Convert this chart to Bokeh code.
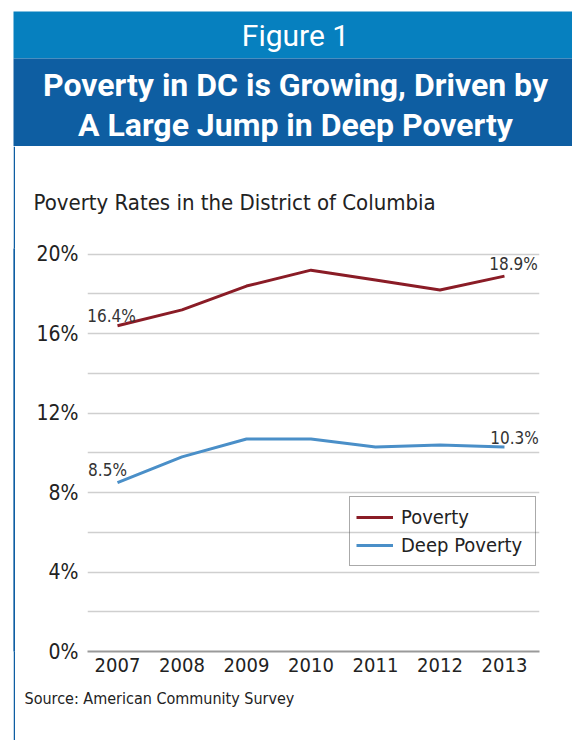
from bokeh.plotting import figure
from bokeh.layouts import column, row
from bokeh.models import (Range1d, FixedTicker, PrintfTickFormatter, Legend, LegendItem,
                          Title, Label, ColumnDataSource, Spacer)
from bokeh.core.properties import value
from bokeh.embed import file_html
from bokeh.resources import INLINE

# ---------------- data ----------------
years = [2007, 2008, 2009, 2010, 2011, 2012, 2013]
poverty = [16.4, 17.2, 18.4, 19.2, 18.7, 18.2, 18.9]
deep_poverty = [8.5, 9.8, 10.7, 10.7, 10.3, 10.4, 10.3]
y_ticks = [0, 4, 8, 12, 16, 20]
grid_ticks = [2, 4, 6, 8, 10, 12, 14, 16, 18, 20]
series_names = ["Poverty", "Deep Poverty"]
fig_label = "Figure 1"
headline = ["Poverty in DC is Growing, Driven by", "A Large Jump in Deep Poverty"]
chart_title = "Poverty Rates in the District of Columbia"
source_note = "Source: American Community Survey"

# ---------------- styles ----------------
LIGHT_BLUE = "#0680BF"
DARK_BLUE = "#0E5EA2"
RED = "#8A1C26"
BLUE = "#4A8FC8"
TXT = "#222222"
NARROW = "DejaVu Sans Condensed, Lato, sans-serif"

W = 572
HEAD_H = 146
CHART_H = 594
GAP_W = 13
STRIP_W = 2

# ---------------- header ----------------
head = figure(width=W, height=HEAD_H, x_range=Range1d(0, W), y_range=Range1d(HEAD_H, 0),
              toolbar_location=None, output_backend="svg", min_border=0)
head.axis.visible = False
head.grid.visible = False
head.outline_line_color = None
head.background_fill_color = "white"
head.border_fill_color = "white"
head.quad(left=[13], right=[W], top=[11], bottom=[58], fill_color=LIGHT_BLUE, line_color=None)
head.quad(left=[13], right=[W], top=[58], bottom=[HEAD_H], fill_color=DARK_BLUE, line_color=None)
head.text(x=[295], y=[35], text=[fig_label], text_color="white", text_font=value("Roboto"),
          text_font_size="30px", text_align="center", text_baseline="middle")
head.text(x=[295, 295], y=[84, 124], text=headline, text_color="white",
          text_font=value("Roboto"), text_font_style="bold", text_font_size="32px",
          text_align="center", text_baseline="middle")

# ---------------- left border strip ----------------
strip = figure(width=STRIP_W, height=CHART_H, x_range=Range1d(0, 1), y_range=Range1d(0, 1),
               toolbar_location=None, output_backend="svg", min_border=0)
strip.axis.visible = False
strip.grid.visible = False
strip.outline_line_color = None
strip.background_fill_color = DARK_BLUE
strip.border_fill_color = DARK_BLUE
strip.quad(left=[0], right=[1], bottom=[0], top=[1], fill_color=DARK_BLUE, line_color=None)

# ---------------- chart ----------------
p = figure(width=W - GAP_W - STRIP_W, height=CHART_H,
           x_range=Range1d(2006.535, 2013.543), y_range=Range1d(0, 20.29),
           toolbar_location=None, output_backend="svg",
           min_border_left=72, min_border_right=33, min_border_top=102, min_border_bottom=89)
p.outline_line_color = None
p.background_fill_color = "white"
p.border_fill_color = "white"

p.yaxis.ticker = FixedTicker(ticks=y_ticks)
p.yaxis.formatter = PrintfTickFormatter(format="%d%%")
p.yaxis.axis_line_color = None
p.yaxis.major_tick_line_color = None
p.yaxis.minor_tick_line_color = None
p.yaxis.major_label_standoff = 3
p.yaxis.major_label_text_font = NARROW
p.yaxis.major_label_text_font_size = "21px"
p.yaxis.major_label_text_color = TXT

p.xaxis.ticker = FixedTicker(ticks=years)
p.xaxis.axis_line_color = "#9a9a9a"
p.xaxis.axis_line_width = 2
p.xaxis.major_tick_line_color = None
p.xaxis.minor_tick_line_color = None
p.xaxis.major_label_standoff = 0
p.xaxis.major_label_text_font = NARROW
p.xaxis.major_label_text_font_size = "20px"
p.xaxis.major_label_text_color = TXT

p.xgrid.visible = False
p.ygrid.ticker = FixedTicker(ticks=grid_ticks)
p.ygrid.grid_line_color = "#cfcfcf"
p.ygrid.grid_line_width = 1.5

src = ColumnDataSource(dict(year=years, pov=poverty, deep=deep_poverty))
r1 = p.line("year", "pov", source=src, line_color=RED, line_width=3)
r2 = p.line("year", "deep", source=src, line_color=BLUE, line_width=3)

# end-point value labels
def add_label(xv, yv, dx, dy):
    p.add_layout(Label(x=xv, y=yv, text=f"{yv:.1f}%", x_offset=dx, y_offset=dy,
                       text_font=NARROW, text_font_size="17px", text_color="#333333",
                       text_align="center", text_baseline="middle"))

add_label(years[0], poverty[0], -6, 10)
add_label(years[-1], poverty[-1], 9, 12)
add_label(years[0], deep_poverty[0], -10, 13)
add_label(years[-1], deep_poverty[-1], 10, 9)

legend = Legend(items=[LegendItem(label=series_names[0], renderers=[r1]),
                       LegendItem(label=series_names[1], renderers=[r2])],
                location=(262, 85), orientation="vertical")
legend.background_fill_alpha = 0
legend.border_line_color = "#555555"
legend.border_line_width = 1.5
legend.padding = 6
legend.spacing = 0
legend.margin = 0
legend.glyph_width = 37
legend.glyph_height = 28
legend.label_height = 28
legend.label_width = 128
legend.label_standoff = 8
legend.label_text_font = NARROW
legend.label_text_font_size = "20px"
legend.label_text_color = TXT
p.add_layout(legend)

p.add_layout(Title(text=chart_title, align="left", offset=-54, standoff=67,
                   text_font=NARROW, text_font_size="22px", text_color=TXT,
                   text_font_style="normal"), "above")
p.add_layout(Title(text=source_note, align="left", offset=-63, standoff=24,
                   text_font=NARROW, text_font_size="16px", text_color=TXT,
                   text_font_style="normal"), "below")

layout = column(head, row(Spacer(width=GAP_W, height=CHART_H), strip, p, spacing=0), spacing=0)

with open("out.html", "w") as f:
    f.write(file_html(layout, INLINE))
